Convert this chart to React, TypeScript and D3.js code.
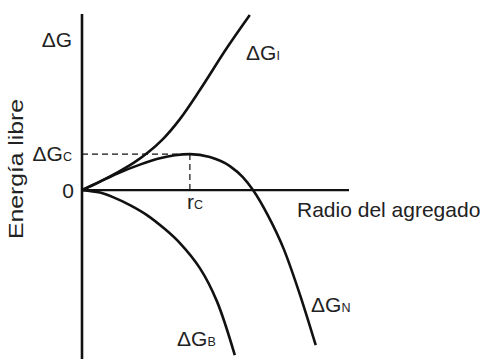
import React from "react";
import * as d3 from "d3";

// Cluster radius (units where the critical radius r_C = 2) and free energy (units of ΔG_C)
const surfaceR = [0, 0.333, 0.667, 0.963, 1.222, 1.5, 1.815, 2.185, 2.685, 3.111];
const surfaceG = [0, 0.236, 0.5, 0.764, 1.044, 1.417, 1.972, 2.778, 3.944, 4.861];

const netR = [0, 0.333, 0.667, 1.074, 1.444, 1.722, 2.0, 2.37, 2.741, 2.981, 3.167, 3.444, 3.741, 4.037, 4.333];
const netG = [0, 0.236, 0.467, 0.708, 0.883, 0.967, 1.0, 0.917, 0.667, 0.361, 0.01, -0.694, -1.639, -2.889, -4.306];

const bulkR = [0, 0.333, 0.574, 0.889, 1.204, 1.537, 1.815, 2.185, 2.5, 2.833];
const bulkG = [0, -0.069, -0.194, -0.417, -0.694, -1.083, -1.472, -2.167, -3.083, -4.583];

const criticalR = 2;
const criticalG = 1;

const W = 481;
const H = 359;
const FONT = "'Liberation Sans', Arial, Helvetica, sans-serif";
const INK = "#111";
const TEXT = "#222";

export default function App() {
  const x = d3.scaleLinear().domain([0, 4.95]).range([82, 349]);
  const y = d3.scaleLinear().domain([-4.69, 4.89]).range([359, 14]);

  const zip = (rs: number[], gs: number[]) => rs.map((r, i) => [r, gs[i]] as [number, number]);

  const smooth = d3
    .line<[number, number]>()
    .x((d) => x(d[0]))
    .y((d) => y(d[1]))
    .curve(d3.curveCatmullRom.alpha(0.5));

  const flatPeak = d3
    .line<[number, number]>()
    .x((d) => x(d[0]))
    .y((d) => y(d[1]))
    .curve(d3.curveMonotoneX);

  const paths = [
    smooth(zip(surfaceR, surfaceG)),
    flatPeak(zip(netR, netG)),
    smooth(zip(bulkR, bulkG)),
  ];

  const main = 21;
  const sub = 12.5;

  return (
    <svg
      width={W}
      height={H}
      style={{ position: "absolute", left: 0, top: 0, background: "#fff" }}
      fontFamily={FONT}
    >
      <rect width={W} height={H} fill="#fff" />
      {/* dashed guides to the maximum */}
      <line
        x1={x(0)}
        x2={x(criticalR)}
        y1={y(criticalG)}
        y2={y(criticalG)}
        stroke={INK}
        strokeWidth={1.2}
        strokeDasharray="6,4"
      />
      <line
        x1={x(criticalR)}
        x2={x(criticalR)}
        y1={y(criticalG)}
        y2={y(0)}
        stroke={INK}
        strokeWidth={1.2}
        strokeDasharray="6,4"
      />
      {/* axes */}
      <line x1={x(0)} x2={x(0)} y1={y(4.89)} y2={y(-4.69)} stroke={INK} strokeWidth={2.6} />
      <line x1={x(0)} x2={x(4.95)} y1={y(0)} y2={y(0)} stroke={INK} strokeWidth={2.4} />
      {/* curves */}
      {paths.map((d, i) => (
        <path key={i} d={d || ""} fill="none" stroke={INK} strokeWidth={2.6} />
      ))}

      {/* axis labels */}
      <text x={72} y={47} textAnchor="end" fontSize={main} fill={TEXT}>
        ΔG
      </text>
      <text x={72} y={161} textAnchor="end" fontSize={main} fill={TEXT}>
        ΔG<tspan fontSize={sub}>C</tspan>
      </text>
      <text x={74} y={198} textAnchor="end" fontSize={main} fill={TEXT}>
        0
      </text>
      <text x={187} y={209} fontSize={main} fill={TEXT}>
        r<tspan fontSize={sub}>C</tspan>
      </text>
      <text x={297} y={217} fontSize={main} fill={TEXT}>
        Radio del agregado
      </text>
      <text
        transform="translate(23,169) rotate(-90)"
        textAnchor="middle"
        fontSize={main}
        textLength={140}
        lengthAdjust="spacingAndGlyphs"
        fill={TEXT}
      >
        Energía libre
      </text>

      {/* curve labels */}
      <text x={246} y={60} fontSize={main} fill={TEXT}>
        ΔG<tspan fontSize={sub}>I</tspan>
      </text>
      <text x={311} y={312} fontSize={main} fill={TEXT}>
        ΔG<tspan fontSize={sub}>N</tspan>
      </text>
      <text x={177} y={346} fontSize={main} fill={TEXT}>
        ΔG<tspan fontSize={sub}>B</tspan>
      </text>
    </svg>
  );
}
